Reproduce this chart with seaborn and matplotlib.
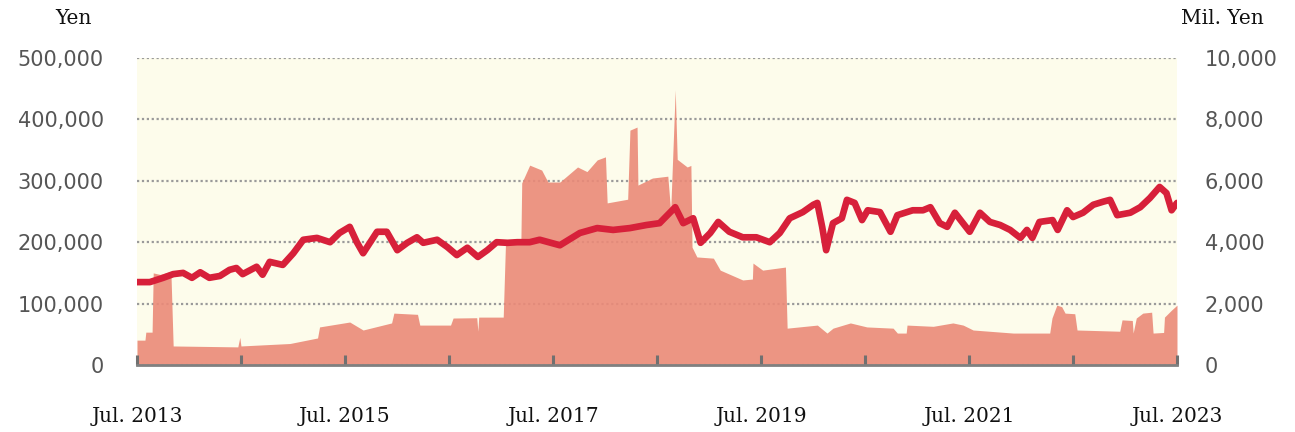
import pandas as pd
import matplotlib
matplotlib.use("Agg")
import matplotlib.pyplot as plt
import seaborn as sns

# Share price (Yen, left axis)
price_dates = [
    "2013-07-01", "2013-08-15", "2013-10-01", "2013-11-05", "2013-12-10", "2014-01-10",
    "2014-02-08", "2014-03-12", "2014-04-18", "2014-05-22", "2014-06-15", "2014-07-07",
    "2014-08-25", "2014-09-15", "2014-10-10", "2014-11-25", "2015-01-01", "2015-02-05",
    "2015-03-25", "2015-05-10", "2015-06-12", "2015-07-18", "2015-08-12", "2015-09-03",
    "2015-10-22", "2015-11-25", "2016-01-01", "2016-02-05", "2016-03-10", "2016-04-01",
    "2016-05-20", "2016-06-25", "2016-07-28", "2016-09-03", "2016-10-10", "2016-11-12",
    "2016-12-15", "2017-01-22", "2017-02-25", "2017-04-10", "2017-05-15", "2017-07-25",
    "2017-10-03", "2017-12-03", "2018-01-28", "2018-03-28", "2018-05-25", "2018-07-10",
    "2018-09-03", "2018-10-01", "2018-11-05", "2018-12-01", "2019-01-04", "2019-02-01",
    "2019-03-12", "2019-04-28", "2019-06-15", "2019-08-01", "2019-09-05", "2019-10-10",
    "2019-11-25", "2020-01-01", "2020-01-15", "2020-02-01", "2020-02-15", "2020-03-10",
    "2020-04-10", "2020-04-28", "2020-05-25", "2020-06-20", "2020-07-10", "2020-08-22",
    "2020-09-28", "2020-10-22", "2020-12-15", "2021-01-20", "2021-02-15", "2021-03-20",
    "2021-04-15", "2021-05-12", "2021-07-03", "2021-08-08", "2021-09-12", "2021-10-18",
    "2021-11-22", "2021-12-28", "2022-01-20", "2022-02-08", "2022-03-05", "2022-04-20",
    "2022-05-08", "2022-06-10", "2022-07-01", "2022-08-05", "2022-09-10", "2022-10-15",
    "2022-11-08", "2022-12-03", "2023-01-18", "2023-02-22", "2023-03-28", "2023-05-01",
    "2023-05-25", "2023-06-12", "2023-07-01",
]
price_yen = [
    135000, 135000, 142000, 148000, 150000, 142000,
    151000, 142000, 145000, 155000, 158000, 148000,
    160000, 147000, 168000, 163000, 182000, 204000,
    207000, 200000, 215000, 225000, 200000, 182000,
    217000, 217000, 187000, 199000, 208000, 199000,
    204000, 192000, 179000, 191000, 176000, 187000,
    200000, 199000, 200000, 200000, 204000, 195000,
    215000, 223000, 220000, 223000, 228000, 231000,
    257000, 231000, 239000, 199000, 215000, 233000,
    217000, 208000, 208000, 200000, 215000, 239000,
    249000, 261000, 264000, 225000, 187000, 231000,
    239000, 269000, 264000, 236000, 252000, 249000,
    217000, 244000, 252000, 252000, 257000, 231000,
    225000, 248000, 217000, 248000, 233000, 228000,
    220000, 207000, 220000, 207000, 233000, 236000,
    220000, 252000, 241000, 248000, 261000, 266000,
    269000, 244000, 248000, 257000, 272000, 290000,
    280000, 252000, 264000,
]

# Trading value (Mil. Yen, right axis)
value_dates = [
    "2013-07-01", "2013-07-29", "2013-08-01", "2013-08-23", "2013-08-27", "2013-09-20",
    "2013-10-28", "2013-11-05", "2014-06-20", "2014-06-27", "2014-07-01", "2014-12-20",
    "2015-03-27", "2015-04-03", "2015-07-18", "2015-09-03", "2015-12-12", "2015-12-20",
    "2016-03-12", "2016-03-20", "2016-07-06", "2016-07-15", "2016-10-06", "2016-10-10",
    "2016-10-13", "2017-01-07", "2017-01-15", "2017-03-10", "2017-03-13", "2017-04-10",
    "2017-05-22", "2017-06-13", "2017-07-25", "2017-09-25", "2017-10-28", "2017-12-03",
    "2018-01-01", "2018-01-07", "2018-03-20", "2018-03-28", "2018-04-22", "2018-04-25",
    "2018-06-15", "2018-08-08", "2018-08-18", "2018-09-03", "2018-09-10", "2018-10-15",
    "2018-10-28", "2018-11-01", "2018-11-18", "2019-01-15", "2019-02-08", "2019-04-28",
    "2019-06-01", "2019-06-03", "2019-07-07", "2019-09-25", "2019-10-01", "2020-01-15",
    "2020-02-18", "2020-03-10", "2020-05-10", "2020-07-07", "2020-10-07", "2020-10-22",
    "2020-11-22", "2020-11-25", "2021-02-25", "2021-05-05", "2021-06-10", "2021-07-15",
    "2021-12-03", "2022-04-10", "2022-04-18", "2022-05-05", "2022-05-22", "2022-06-03",
    "2022-07-07", "2022-07-15", "2022-12-12", "2022-12-20", "2023-01-25", "2023-01-28",
    "2023-02-08", "2023-03-03", "2023-04-03", "2023-04-08", "2023-05-15", "2023-05-18",
    "2023-06-12", "2023-07-01",
]
value_mil_yen = [
    810, 810, 1070, 1070, 3000, 2950,
    3050, 620, 590, 900, 620, 700,
    880, 1240, 1400, 1140, 1370, 1690,
    1650, 1300, 1300, 1530, 1540, 1100,
    1560, 1560, 3970, 4000, 5930, 6510,
    6350, 5960, 5960, 6450, 6300, 6680,
    6780, 5280, 5400, 7650, 7750, 5860,
    6090, 6150, 5000, 8960, 6700, 6450,
    6500, 3840, 3520, 3480, 3090, 2770,
    2800, 3320, 3090, 3190, 1200, 1300,
    1040, 1200, 1370, 1240, 1200, 1040,
    1040, 1300, 1260, 1370, 1300, 1140,
    1040, 1040, 1530, 1950, 1900, 1690,
    1670, 1140, 1100, 1470, 1450, 1040,
    1530, 1690, 1720, 1040, 1060, 1560,
    1790, 1950,
]

left_ticks = [0, 100000, 200000, 300000, 400000, 500000]
right_ticks = [0, 2000, 4000, 6000, 8000, 10000]
year_ticks = list(range(2013, 2024))
x_labels = ["Jul. 2013", "Jul. 2015", "Jul. 2017", "Jul. 2019", "Jul. 2021", "Jul. 2023"]

price = pd.DataFrame({"date": pd.to_datetime(price_dates), "yen": price_yen})
value = pd.DataFrame({"date": pd.to_datetime(value_dates), "mil": value_mil_yen})

sns.set_theme(style="white")
plt.rcParams["font.family"] = ["DejaVu Sans"]

fig = plt.figure(figsize=(12.95, 4.32), dpi=100)
ax = fig.add_axes([137 / 1295, 67 / 432, 1040 / 1295, 307 / 432])
ax2 = ax.twinx()

# area (right axis) sits below the price line
ax2.set_zorder(1)
ax.set_zorder(2)
ax.patch.set_visible(False)
ax2.patch.set_visible(True)
ax2.patch.set_facecolor("#FDFCEB")

ax2.set_axisbelow(True)
ax2.grid(axis="y", color="#9a9a9a", linestyle=(0, (1, 1.2)), linewidth=1.6)
ax2.fill_between(value["date"], value["mil"], 0, color="#EB8A78", alpha=0.9, linewidth=0)

sns.lineplot(data=price, x="date", y="yen", ax=ax, color="#D7203A", linewidth=4.8)

start, end = pd.Timestamp("2013-07-01"), pd.Timestamp("2023-07-01")
ax.set_xlim(start, end)
ax.set_ylim(0, 500000)
ax2.set_ylim(0, 10000)

ax.set_yticks(left_ticks)
ax.set_yticklabels([f"{v:,}" for v in left_ticks])
ax2.set_yticks(right_ticks)
ax2.set_yticklabels([f"{v:,}" for v in right_ticks])

tick_dates = [pd.Timestamp(f"{y}-07-01") for y in year_ticks]
ax.set_xticks(tick_dates)
ax.set_xticklabels([x_labels[i // 2] if i % 2 == 0 else "" for i in range(len(tick_dates))],
                   family="DejaVu Serif", fontsize=14.5, color="#111111")
ax2.grid(axis="x", visible=False)

ax.set_xlabel("")
ax.set_ylabel("")
ax.tick_params(axis="x", bottom=True, direction="in", length=7, width=2.2,
               color="#707070", pad=30)
ax.tick_params(axis="y", length=0, pad=24, labelsize=15, labelcolor="#555555")
ax2.tick_params(axis="y", length=0, pad=20, labelsize=15, labelcolor="#555555")
ax2.tick_params(axis="x", length=0)

for a in (ax, ax2):
    for s in ("top", "left", "right"):
        a.spines[s].set_visible(False)
ax2.spines["bottom"].set_visible(False)
ax.spines["bottom"].set_color("#808080")
ax.spines["bottom"].set_linewidth(2)

fig.text(73 / 1295, 1 - 18 / 432, "Yen", family="DejaVu Serif", fontsize=14.5,
         ha="center", va="center", color="#111111")
fig.text(1222 / 1295, 1 - 18 / 432, "Mil. Yen", family="DejaVu Serif", fontsize=14.5,
         ha="center", va="center", color="#111111")

fig.savefig("out.png", dpi=100, facecolor="white")
